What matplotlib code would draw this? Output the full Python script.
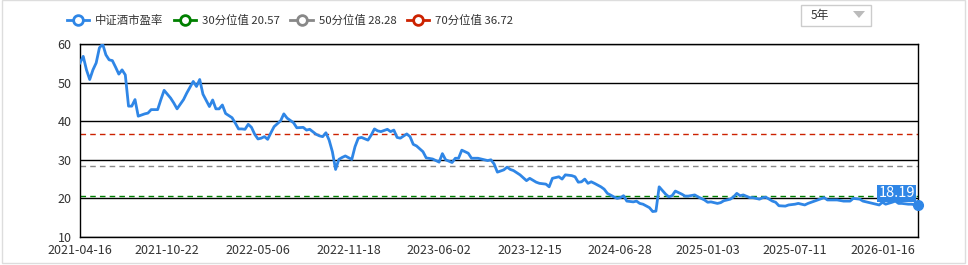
import numpy as np
import pandas as pd
import matplotlib
matplotlib.use("Agg")
import matplotlib.pyplot as plt
from matplotlib.lines import Line2D
from matplotlib.patches import Rectangle, Polygon

plt.rcParams['font.family'] = ['Noto Sans CJK SC', 'DejaVu Sans']

# weeks since 2021-04-16 and PE value
week_no = [0, 1, 2, 3, 4, 5, 6, 7, 8, 9, 10, 11, 12, 13, 14, 15, 16, 17, 18, 20,
           21, 22, 24, 25, 26, 28, 29, 30, 32, 33, 35, 36, 37, 38, 40, 41, 42, 43, 44, 45,
           47, 48, 49, 50, 51, 52, 53, 54, 55, 56, 57, 58, 59, 60, 62, 63, 64, 66, 67, 69,
           70, 71, 73, 74, 75, 76, 77, 78, 79, 80, 81, 82, 84, 85, 86, 87, 89, 90, 91, 92,
           93, 95, 96, 97, 98, 99, 101, 102, 103, 104, 106, 107, 109, 110, 111, 112, 113, 115, 116, 117,
           118, 120, 121, 123, 125, 126, 127, 128, 129, 131, 132, 133, 134, 136, 138, 139, 141, 142, 144, 145,
           146, 148, 149, 150, 152, 153, 154, 155, 156, 157, 158, 159, 161, 162, 163, 165, 166, 167, 168, 169,
           171, 172, 173, 174, 176, 177, 178, 179, 181, 182, 183, 184, 186, 187, 188, 190, 191, 193, 194, 195,
           197, 198, 199, 201, 202, 203, 204, 205, 207, 208, 210, 211, 212, 214, 215, 216, 218, 219, 221, 222,
           224, 225, 227, 228, 230, 231, 232, 234, 236, 238, 239, 241, 242, 244, 245, 247, 248, 249, 251, 252,
           253, 254, 256, 257, 259]
pe = [55.1, 56.8, 53.3, 50.8, 53.3, 55.1, 59.0, 60.0, 57.2, 55.9, 55.7, 54.0, 52.2, 53.3, 52.0, 43.9, 43.9, 45.6, 41.3, 41.9,
      42.1, 43.0, 43.0, 45.6, 48.0, 46.0, 44.7, 43.2, 45.6, 47.3, 50.3, 49.0, 50.8, 47.0, 43.8, 45.5, 43.2, 43.2, 44.2, 42.0,
      40.9, 39.5, 38.0, 38.0, 37.9, 39.2, 38.4, 36.6, 35.4, 35.6, 36.0, 35.3, 37.0, 38.6, 40.1, 41.9, 40.8, 39.6, 38.3, 38.4,
      37.7, 37.9, 36.6, 36.2, 36.0, 37.0, 35.1, 32.1, 27.5, 30.1, 30.6, 31.0, 30.1, 33.4, 35.6, 35.8, 35.1, 36.4, 38.0, 37.5,
      37.3, 37.9, 37.3, 37.7, 35.8, 35.6, 36.7, 36.0, 34.0, 33.6, 32.1, 30.5, 30.2, 29.8, 29.4, 31.6, 30.0, 29.3, 30.4, 30.4,
      32.5, 31.7, 30.4, 30.4, 30.0, 29.8, 30.0, 28.9, 26.8, 27.4, 28.1, 27.5, 27.2, 26.1, 24.6, 25.2, 24.2, 23.9, 23.7, 23.0,
      25.2, 25.6, 25.0, 26.1, 25.9, 25.6, 24.2, 24.3, 25.0, 23.9, 24.3, 23.9, 23.0, 22.4, 21.3, 20.4, 20.0, 20.2, 20.7, 19.3,
      19.1, 19.3, 18.7, 18.5, 17.6, 16.6, 16.7, 23.0, 21.1, 20.4, 20.7, 21.9, 21.1, 20.6, 20.6, 20.9, 20.4, 19.6, 19.0, 19.1,
      18.7, 18.9, 19.4, 19.8, 20.4, 21.3, 20.7, 20.9, 20.2, 20.2, 19.8, 20.2, 20.3, 19.3, 19.0, 18.1, 18.0, 18.3, 18.5, 18.7,
      18.3, 18.7, 19.3, 19.6, 20.2, 19.6, 19.6, 19.6, 19.3, 19.3, 20.0, 19.8, 19.3, 18.9, 18.7, 18.3, 19.0, 18.5, 19.0, 19.3,
      18.7, 18.7, 18.5, 18.5, 18.19]

tick_labels = ['2021-04-16', '2021-10-22', '2022-05-06', '2022-11-18', '2023-06-02',
               '2023-12-15', '2024-06-28', '2025-01-03', '2025-07-11', '2026-01-16']

p30 = 20.57
p50 = 28.28
p70 = 36.72

blue = '#2f86e6'
green = '#008000'
gray = '#888888'
red = '#cc2200'
txt = '#333333'

dates = pd.Timestamp('2021-04-16') + pd.to_timedelta(np.array(week_no) * 7, unit='D')

W, H = 968, 265
fig = plt.figure(figsize=(W / 100, H / 100), dpi=100)
ax = fig.add_axes([80 / W, 1 - 237 / H, (918 - 80) / W, (237 - 44) / H])

# outer frame
fig.patches.append(Rectangle((2 / W, 1 - 263 / H), 963 / W, 263 / H, transform=fig.transFigure,
                             fill=False, edgecolor='#dddddd', linewidth=1))

ax.set_ylim(10, 60)
ax.set_yticks([10, 20, 30, 40, 50, 60])
ax.set_xlim(dates[0], dates[-1])
ax.set_xticks(pd.to_datetime(tick_labels))
ax.set_xticklabels(tick_labels)
ax.tick_params(axis='both', length=0, labelsize=9, colors=txt)
ax.tick_params(axis='y', pad=6)
ax.tick_params(axis='x', pad=5)
for s in ax.spines.values():
    s.set_color('black')
    s.set_linewidth(1)
ax.grid(axis='y', color='black', linewidth=1)
ax.set_axisbelow(True)

ax.axhline(p70, color=red, linewidth=1, linestyle=(0, (4, 3)))
ax.axhline(p50, color=gray, linewidth=1, linestyle=(0, (4, 3)))
ax.axhline(p30, color=green, linewidth=1, linestyle=(0, (4, 3)))

ax.plot(dates, pe, color=blue, linewidth=2, solid_joinstyle='round', zorder=4)
ax.plot(dates[-1], pe[-1], 'o', color=blue, markersize=7, clip_on=False, zorder=5)
ax.annotate('%.2f' % pe[-1], (dates[-1], pe[-1]), xytext=(-3, 5), textcoords='offset pixels',
            ha='right', va='bottom', color='white', fontsize=10.5, zorder=6,
            bbox=dict(boxstyle='square,pad=0.1', facecolor=blue, edgecolor='none'))

# legend
handles = [Line2D([], [], color=c, linewidth=2, marker='o', markersize=7, markerfacecolor='white',
                  markeredgewidth=2) for c in [blue, green, gray, red]]
labels = ['中证酒市盈率', '30分位值 %.2f' % p30, '50分位值 %.2f' % p50, '70分位值 %.2f' % p70]
fig.legend(handles, labels, loc='center left', bbox_to_anchor=(62 / W, 1 - 20 / H), ncol=4,
           frameon=False, fontsize=8.2, handlelength=2.0, handletextpad=0.5, columnspacing=0.9,
           labelcolor=txt, borderaxespad=0)

# period selector box
fig.patches.append(Rectangle((801 / W, 1 - 26 / H), 70 / W, 21.5 / H, transform=fig.transFigure,
                             fill=True, facecolor='white', edgecolor='#cccccc', linewidth=1))
fig.text(811 / W, 1 - 15.5 / H, '5年', fontsize=8.5, color=txt, va='center', ha='left')
fig.patches.append(Polygon([(853 / W, 1 - 11 / H), (865 / W, 1 - 11 / H), (859 / W, 1 - 18 / H)],
                           closed=True, transform=fig.transFigure, facecolor='#bbbbbb', edgecolor='none'))

fig.savefig('out.png', dpi=100)
